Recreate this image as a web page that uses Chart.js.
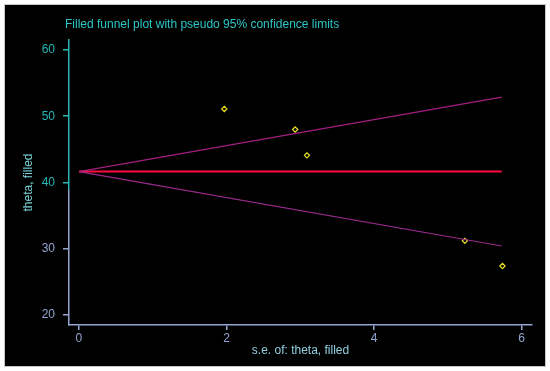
<!DOCTYPE html>
<html>
<head>
<meta charset="utf-8">
<script src="https://cdn.jsdelivr.net/npm/chart.js@4"></script>
<style>
  body { margin: 0; background: #fff; }
  #wrap { position: absolute; left: 5px; top: 5px; width: 540px; height: 361px; background: #000; outline: 1px solid #c8c8c8; }
</style>
</head>
<body>
<div id="wrap"><canvas id="funnel" width="540" height="361"></canvas></div>
<script>
// study estimates (s.e. on x, theta on y)
const seValues = [1.97, 2.93, 3.09, 5.23, 5.74];
const thetaValues = [51.1, 48.0, 44.1, 31.2, 27.4];

// pooled estimate and pseudo 95% limits
const pooledTheta = 41.65;
const limitSe = [0, 5.73];
const upperLimit = [41.65, 52.88];
const lowerLimit = [41.65, 30.42];

const xTicks = [0, 2, 4, 6];
const yTicks = [20, 30, 40, 50, 60];

const teal = '#26b8b8';
const steel = '#93a6d2';
const fontFamily = '"Liberation Sans", Arial, sans-serif';

function pairs(xs, ys) {
    return xs.map((x, i) => ({ x: x, y: ys[i] }));
}

const canvas = document.getElementById('funnel');
const ctx = canvas.getContext('2d');

const yAxisColor = ctx.createLinearGradient(0, 35, 0, 320);
yAxisColor.addColorStop(0, teal);
yAxisColor.addColorStop(0.52, teal);
yAxisColor.addColorStop(0.53, steel);
yAxisColor.addColorStop(1, steel);

// title drawn above the plot area
const titlePlugin = {
    id: 'stataTitle',
    afterDraw(chart) {
        const c = chart.ctx;
        c.save();
        c.fillStyle = '#2cc6c6';
        c.font = '12px ' + fontFamily;
        c.textBaseline = 'middle';
        c.fillText('Filled funnel plot with pseudo 95% confidence limits', 60, 20);
        c.restore();
    }
};

new Chart(ctx, {
    type: 'scatter',
    data: {
        datasets: [
            {
                label: 'upper',
                data: pairs(limitSe, upperLimit),
                showLine: true,
                borderColor: '#a3207f',
                borderWidth: 1.2,
                pointRadius: 0
            },
            {
                label: 'lower',
                data: pairs(limitSe, lowerLimit),
                showLine: true,
                borderColor: '#9a2a8c',
                borderWidth: 1.2,
                pointRadius: 0
            },
            {
                label: 'pooled',
                data: pairs(limitSe, [pooledTheta, pooledTheta]),
                showLine: true,
                borderColor: '#ff0a3c',
                borderWidth: 2,
                pointRadius: 0
            },
            {
                label: 'studies',
                data: pairs(seValues, thetaValues),
                pointStyle: 'rectRot',
                pointRadius: 2.6,
                borderWidth: 1.2,
                borderColor: '#e8e020',
                backgroundColor: 'rgba(0,0,0,0)'
            }
        ]
    },
    options: {
        responsive: false,
        animation: false,
        layout: { padding: { top: 35, right: 13, left: 0, bottom: 8 } },
        plugins: {
            legend: { display: false },
            tooltip: { enabled: false }
        },
        scales: {
            x: {
                type: 'linear',
                min: -0.135,
                max: 6.14,
                afterBuildTicks: (axis) => { axis.ticks = xTicks.map(v => ({ value: v })); },
                afterFit: (axis) => { axis.height = 33; },
                border: { color: steel, width: 1.5 },
                grid: { drawOnChartArea: false, color: steel, tickLength: 5, lineWidth: 1.5 },
                ticks: {
                    color: steel,
                    padding: 1,
                    maxRotation: 0,
                    font: { family: fontFamily, size: 12 }
                },
                title: {
                    display: true,
                    text: 's.e. of: theta, filled',
                    color: '#8fd0e0',
                    padding: { top: 0, bottom: 0 },
                    font: { family: fontFamily, size: 12 }
                }
            },
            y: {
                type: 'linear',
                min: 18.5,
                max: 61.5,
                afterBuildTicks: (axis) => { axis.ticks = yTicks.map(v => ({ value: v })); },
                afterFit: (axis) => { axis.width = 64; },
                border: { color: yAxisColor, width: 1.5 },
                grid: {
                    drawOnChartArea: false,
                    tickLength: 6,
                    lineWidth: 1.5,
                    color: (c) => (c.tick && c.tick.value >= 40 ? teal : steel)
                },
                ticks: {
                    padding: 8,
                    color: (c) => (c.tick && c.tick.value >= 40 ? teal : steel),
                    font: { family: fontFamily, size: 12 }
                },
                title: {
                    display: true,
                    text: 'theta, filled',
                    color: '#7cd4d8',
                    padding: { top: 16, bottom: 0 },
                    font: { family: fontFamily, size: 12 }
                }
            }
        }
    },
    plugins: [titlePlugin]
});
</script>
</body>
</html>
